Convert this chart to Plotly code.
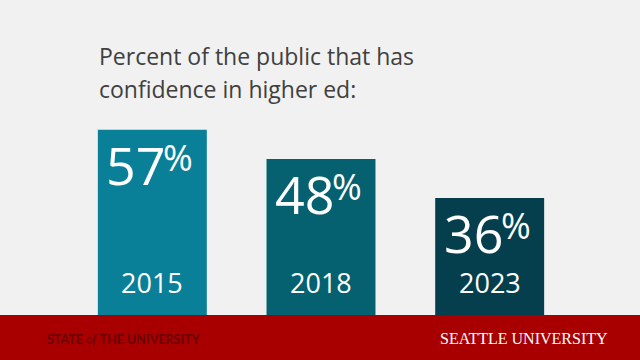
import plotly.graph_objects as go

years = ["2015", "2018", "2023"]
values = [57, 48, 36]
bar_colors = ["#0a7f98", "#05606f", "#053f4e"]
title_lines = ["Percent of the public that has", "confidence in higher ed:"]

W, H = 640, 360
ML, MR, MT, MB = 68, 66, 100, 0
PX_PER_UNIT = 3.25
BAND_H = 45
plot_w = W - ML - MR
plot_h = H - MT - MB
y_lo = -BAND_H / PX_PER_UNIT
y_hi = y_lo + plot_h / PX_PER_UNIT

def px_x(p):
    return (p - ML) / plot_w

def px_y(p):
    return (H - MB - p) / plot_h

fig = go.Figure()
fig.add_trace(go.Bar(
    x=years, y=values, marker=dict(color=bar_colors, line=dict(width=0)),
    hoverinfo="skip", showlegend=False,
))

font_main = "Open Sans, Noto Sans, sans-serif"
ann = []
for i, (yr, v) in enumerate(zip(years, values)):
    ann.append(dict(x=i, y=v, xref="x", yref="y", text=str(v), showarrow=False,
                    xanchor="right", yanchor="top", xshift=14, yshift=2, borderpad=0,
                    font=dict(family=font_main, size=52, color="white")))
    ann.append(dict(x=i, y=v, xref="x", yref="y", text="%", showarrow=False,
                    xanchor="left", yanchor="top", xshift=10, yshift=-2, borderpad=0,
                    font=dict(family=font_main, size=36, color="white")))
    ann.append(dict(x=i, y=0, xref="x", yref="y", text=yr, showarrow=False,
                    xanchor="center", yanchor="middle", yshift=33, borderpad=0,
                    font=dict(family=font_main, size=27, color="white")))

for line, centre in zip(title_lines, [56, 89]):
    ann.append(dict(x=px_x(97), y=px_y(centre), xref="paper", yref="paper",
                    text=line, showarrow=False, xanchor="left", yanchor="middle",
                    font=dict(family=font_main, size=23, color="#404040")))

ann.append(dict(x=px_x(45), y=px_y(339), xref="paper", yref="paper",
                text="<b>STATE</b> <i>of</i> <b>THE UNIVERSITY</b>", showarrow=False,
                xanchor="left", yanchor="middle",
                font=dict(family="Lato, sans-serif", size=12.5, color="#6a0000")))
ann.append(dict(x=px_x(610), y=px_y(338), xref="paper", yref="paper",
                text="SEATTLE UNIVERSITY", showarrow=False,
                xanchor="right", yanchor="middle",
                font=dict(family="Liberation Serif, DejaVu Serif, serif", size=16, color="white")))

fig.update_layout(
    width=W, height=H,
    margin=dict(l=ML, r=MR, t=MT, b=MB, pad=0),
    paper_bgcolor="#f1f1f1", plot_bgcolor="rgba(0,0,0,0)",
    bargap=0.354,
    xaxis=dict(visible=False, type="category", range=[-0.5, 2.5]),
    yaxis=dict(visible=False, range=[y_lo, y_hi]),
    annotations=ann,
    shapes=[dict(type="rect", xref="paper", yref="paper", x0=px_x(0), x1=px_x(W),
                 y0=px_y(H), y1=px_y(H - BAND_H), fillcolor="#a80000",
                 line=dict(width=0), layer="above")],
)
fig.write_html("out.html", config={"displayModeBar": False},
               post_script="document.body.style.margin='0';document.body.style.background='#f1f1f1';")
